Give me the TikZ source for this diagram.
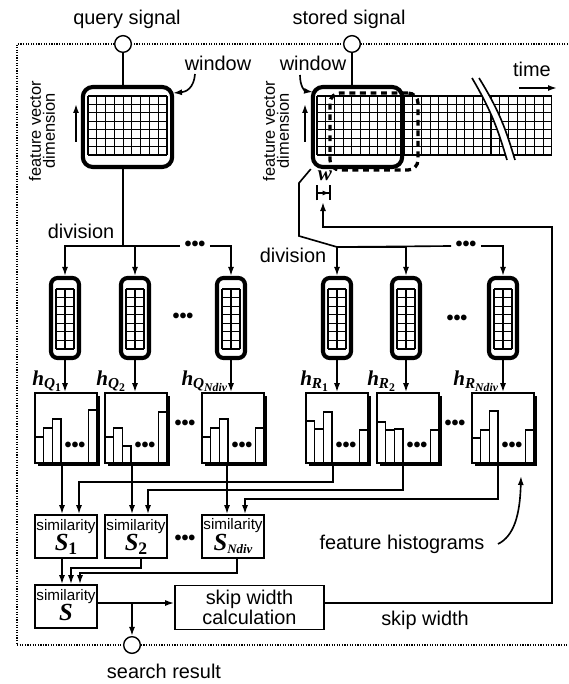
\documentclass[tikz,border=0pt]{standalone}
\usepackage{fontspec}
\setmainfont{Liberation Sans}
\newfontfamily\tms{Liberation Serif}
\usepackage{tikz}
\usetikzlibrary{arrows.meta,shadows}

\newcommand{\hlab}[2]{{\tms\bfseries\itshape\fontsize{18}{18}\selectfont h\raisebox{-0.3ex}{\fontsize{13}{13}\selectfont #1\raisebox{-0.4ex}{\fontsize{10}{10}\selectfont #2}}}}
\newcommand{\slab}[1]{{\tms\bfseries\itshape\fontsize{21}{21}\selectfont S\raisebox{-0.3ex}{\fontsize{15}{15}\selectfont #1}}}

\begin{document}
\begin{tikzpicture}[x=0.03cm,y=-0.03cm,
  font=\fontsize{17}{19}\selectfont,
  >={Latex[length=0.27cm,width=0.18cm]},
  line width=1.4pt,
  port/.style={circle,draw,fill=white,minimum size=0.5cm,inner sep=0pt,line width=1.2pt},
  win/.style={draw,line width=3.5pt,rounded corners=0.3cm,inner sep=0pt,minimum width=2.68cm,minimum height=2.4cm},
  slice/.style={draw,fill=white,line width=3.5pt,rounded corners=0.2cm,inner sep=0pt,minimum width=0.84cm,minimum height=2.4cm},
  hist/.style={draw,fill=white,line width=1.3pt,inner sep=0pt,minimum width=1.86cm,minimum height=2.1cm,
    drop shadow={shadow xshift=0.09cm,shadow yshift=-0.09cm,fill=black,opacity=1}},
  simbox/.style={draw,line width=1.4pt,inner sep=0pt,minimum width=1.86cm,minimum height=1.29cm,align=center,font=\fontsize{13}{14}\selectfont},
  ellip/.style={inner sep=3pt,font=\fontsize{17}{17}\selectfont\bfseries},
  cell/.style={line width=1pt},
]
  \useasboundingbox (0,0) rectangle (568,684);

  % 枠
  \draw[line width=1.2pt,dash pattern=on 1pt off 1.2pt] (568,44) -- (17,44) -- (17,645) -- (568,645);

  % 入出力
  \node[port] (qin) at (123,44) {};
  \node (qtxt) at (127,19) {query signal};
  \node[port] (sin) at (352,44) {};
  \node (stxt) at (349,19) {stored signal};
  \node[port] (res) at (132,645) {};
  \node (rtxt) at (164,671) {search result};

  % 蓄積信号
  \foreach \i in {0,...,27} \draw[cell] (317+\i*8.7,96) -- (317+\i*8.7,155);
  \foreach \j in {0,...,7} \draw[cell] (317,96+\j*8.43) -- (552,96+\j*8.43);
  \fill[white] (472,78) .. controls (492,112) and (498,130) .. (507,160) -- (515,160) .. controls (506,130) and (500,112) .. (479,78) -- cycle;
  \draw (472,78) .. controls (492,112) and (498,130) .. (507,160);
  \draw (479,78) .. controls (500,112) and (506,130) .. (515,160);
  \node[win,line width=2.8pt,dash pattern=on 5pt off 4pt,minimum width=2.64cm,minimum height=2.31cm] (snext) at (374,131.5) {};
  \node[win] (swin) at (357.5,127) {};

  % 問合せ窓
  \node[win,fill=white] (qwin) at (127.5,127) {};
  \foreach \i in {0,...,9} \draw[cell] (88+\i*8.78,96) -- (88+\i*8.78,155);
  \foreach \j in {0,...,7} \draw[cell] (88,96+\j*8.43) -- (167,96+\j*8.43);

  % ラベル
  \node (wq) at (218,63) {window};
  \node (ws) at (313,63) {window};
  \node (tlab) at (532,69) {time};
  \node[rotate=90,align=center,font=\fontsize{14}{12}\selectfont] (fvq) at (42,131) {feature vector\\dimension};
  \node[rotate=90,align=center,font=\fontsize{14}{12}\selectfont] (fvs) at (276,131) {feature vector\\dimension};
  \node (dq) at (81,231) {division};
  \node (ds) at (293,255) {division};
  \node (wlab) at (325,176) {\tms\bfseries\itshape\fontsize{18}{18}\selectfont w};

  \coordinate (wqs) at (195,74);
  \coordinate (wqt) at (173,93);
  \coordinate (wss) at (300,75);
  \coordinate (wst) at (313,92);
  \coordinate (ta) at (519,88);
  \coordinate (tb) at (557,88);
  \coordinate (qa1) at (76,142);
  \coordinate (qa2) at (76,104);
  \coordinate (sa1) at (305,142);
  \coordinate (sa2) at (305,104);
  \coordinate (wl) at (316,193);
  \coordinate (wr) at (331,193);

  \draw[->] (wqs) .. controls (194,88) and (186,92) .. (wqt);
  \draw[->] (wss) .. controls (300,87) and (305,91) .. (wst);
  \draw[->] (ta) -- (tb);
  \draw[->] (qa1) -- (qa2);
  \draw[->] (sa1) -- (sa2);
  \draw[{Bar[width=0.45cm]}-{Latex[length=0.2cm,width=0.15cm]Bar[width=0.45cm]}] (wl) -- (wr);

  % 分割
  \foreach \n/\cx in {qs1/65,qs2/135,qs3/231,ss1/337,ss2/406,ss3/503} {
    \node[slice] (\n) at (\cx,318) {};
    \foreach \i in {0,1,2} \draw[cell] (\cx-9+\i*9,289) -- (\cx-9+\i*9,349);
    \foreach \j in {0,...,7} \draw[cell] (\cx-9,289+\j*8.57) -- (\cx+9,289+\j*8.57);
  }
  \node[ellip] (qsd) at (183,318) {•••};
  \node[ellip] (ssd) at (457,320) {•••};

  \coordinate (qjoin) at (123,246);
  \coordinate (sb1) at (299,183);
  \coordinate (sb2) at (299,236);
  \coordinate (sjoin) at (337,247);
  \node[ellip] (qdd) at (195,246) {•••};
  \node[ellip] (sdd) at (466,246) {•••};

  \draw (qin) -- (qin |- qwin.north);
  \draw (qin |- qwin.south) -- (qjoin);
  \draw[->] (qjoin) -| (qs1.north);
  \draw[->] (qjoin) -| (qs2.north);
  \draw (qjoin) -- (qdd.west);
  \draw[->] (qdd.east) -| (qs3.north);

  \draw (sin) -- (sin |- swin.north);
  \draw (swin.south west) -- (sb1) -- (sb2) -- (sjoin);
  \draw[->] (sjoin) -- (ss1.north);
  \draw[->] (sjoin) -| (ss2.north);
  \draw (sjoin) -- (sdd.west);
  \draw[->] (sdd.east) -| (ss3.north);

  % ヒストグラム
  \foreach \n/\bx/\ta/\tb/\tc/\td in {qh1/35/437/428/419/410, qh2/105/437/428/446/412, qh3/202/437/428/419/428,
                                     sh1/306/421/429/412/430, sh2/377/422/430/429/430, sh3/472/438/430/411/430} {
    \node[hist] (\n) at (\bx+31,428) {};
    \draw[line width=1.3pt] (\bx,\ta) rectangle (\bx+8.7,463);
    \draw[line width=1.3pt] (\bx+8.7,\tb) rectangle (\bx+17.4,463);
    \draw[line width=1.3pt] (\bx+17.4,\tc) rectangle (\bx+26.1,463);
    \draw[line width=1.3pt] (\bx+53.3,\td) rectangle (\bx+62,463);
    \node[ellip] (\n-d) at (\bx+40,447) {•••};
  }
  \node[ellip] (qhd) at (185,425) {•••};
  \node[ellip] (shd) at (455,425) {•••};

  \node[anchor=east,inner sep=1pt] (hq1) at (63,381) {\hlab{Q}{\upshape 1}};
  \node[anchor=east,inner sep=1pt] (hq2) at (127,381) {\hlab{Q}{\upshape 2}};
  \node[anchor=east,inner sep=1pt] (hq3) at (229,381) {\hlab{Q}{Ndiv}};
  \node[anchor=east,inner sep=1pt] (hr1) at (330,381) {\hlab{R}{\upshape 1}};
  \node[anchor=east,inner sep=1pt] (hr2) at (397,381) {\hlab{R}{\upshape 2}};
  \node[anchor=east,inner sep=1pt] (hr3) at (500,381) {\hlab{R}{Ndiv}};

  \foreach \n/\h in {qs1/qh1,qs2/qh2,qs3/qh3,ss1/sh1,ss2/sh2,ss3/sh3}
    \draw[->] (\n.south) -- (\n.south |- \h.north);

  % 類似度
  \node[simbox] (s1) at (66,536.5) {similarity\\\slab{\upshape 1}};
  \node[simbox] (s2) at (136,536.5) {similarity\\\slab{\upshape 2}};
  \node[simbox] (s3) at (233,536.5) {similarity\\\slab{\fontsize{11}{11}\selectfont Ndiv}};
  \node[ellip] (sd) at (185,540) {•••};
  \node[simbox] (sS) at (66,606.5) {similarity\\\slab{}};
  \node[draw,line width=1.4pt,minimum width=4.47cm,minimum height=1.32cm,align=center,font=\fontsize{17}{15}\selectfont] (skip) at (249.5,607.5) {skip width\\calculation};
  \node (fhl) at (402,544) {feature histograms};
  \node (swl) at (425,620) {skip width};

  \coordinate (fhs) at (498,544);
  \coordinate (fht) at (521,476);
  \coordinate (sy) at (0,603);
  \coordinate (fbc) at (552,227);
  \coordinate (wtip) at (323,202);

  % 矢印
  \draw[->] (fhs) .. controls (514,536) and (520,515) .. (fht);
  \draw[->] ([xshift=-0.12cm]qh1.south) -- ([xshift=-0.12cm]qh1.south |- s1.north);
  \draw[->] ([xshift=-0.12cm]qh2.south) -- ([xshift=-0.12cm]qh2.south |- s2.north);
  \draw[->] ([xshift=-0.18cm]qh3.south) -- ([xshift=-0.18cm]qh3.south |- s3.north);
  \draw[->] ([xshift=-0.12cm]sh1.south) -- ++(0,18) -| ([xshift=0.39cm]s1.north);
  \draw[->] ([xshift=-0.15cm]sh2.south) -- ++(0,26) -| ([xshift=0.36cm]s2.north);
  \draw[->] ([xshift=-0.15cm]sh3.south) -- ++(0,35) -| ([xshift=0.36cm]s3.north);

  \draw[->] ([xshift=-0.12cm]s1.south) -- ([xshift=-0.12cm]s1.south |- sS.north);
  \draw[->] ([xshift=0.15cm]s2.south) -- ++(0,9) -| ([xshift=0.15cm]sS.north);
  \draw[->] ([xshift=0.12cm]s3.south) -- ++(0,14) -| ([xshift=0.42cm]sS.north);

  \draw[->] (sS.east |- sy) -- (skip.west |- sy);
  \draw[->] (res |- sy) -- (res.north);
  \draw[->] (skip.east |- sy) -| (fbc) -| (wtip);
\end{tikzpicture}
\end{document}
